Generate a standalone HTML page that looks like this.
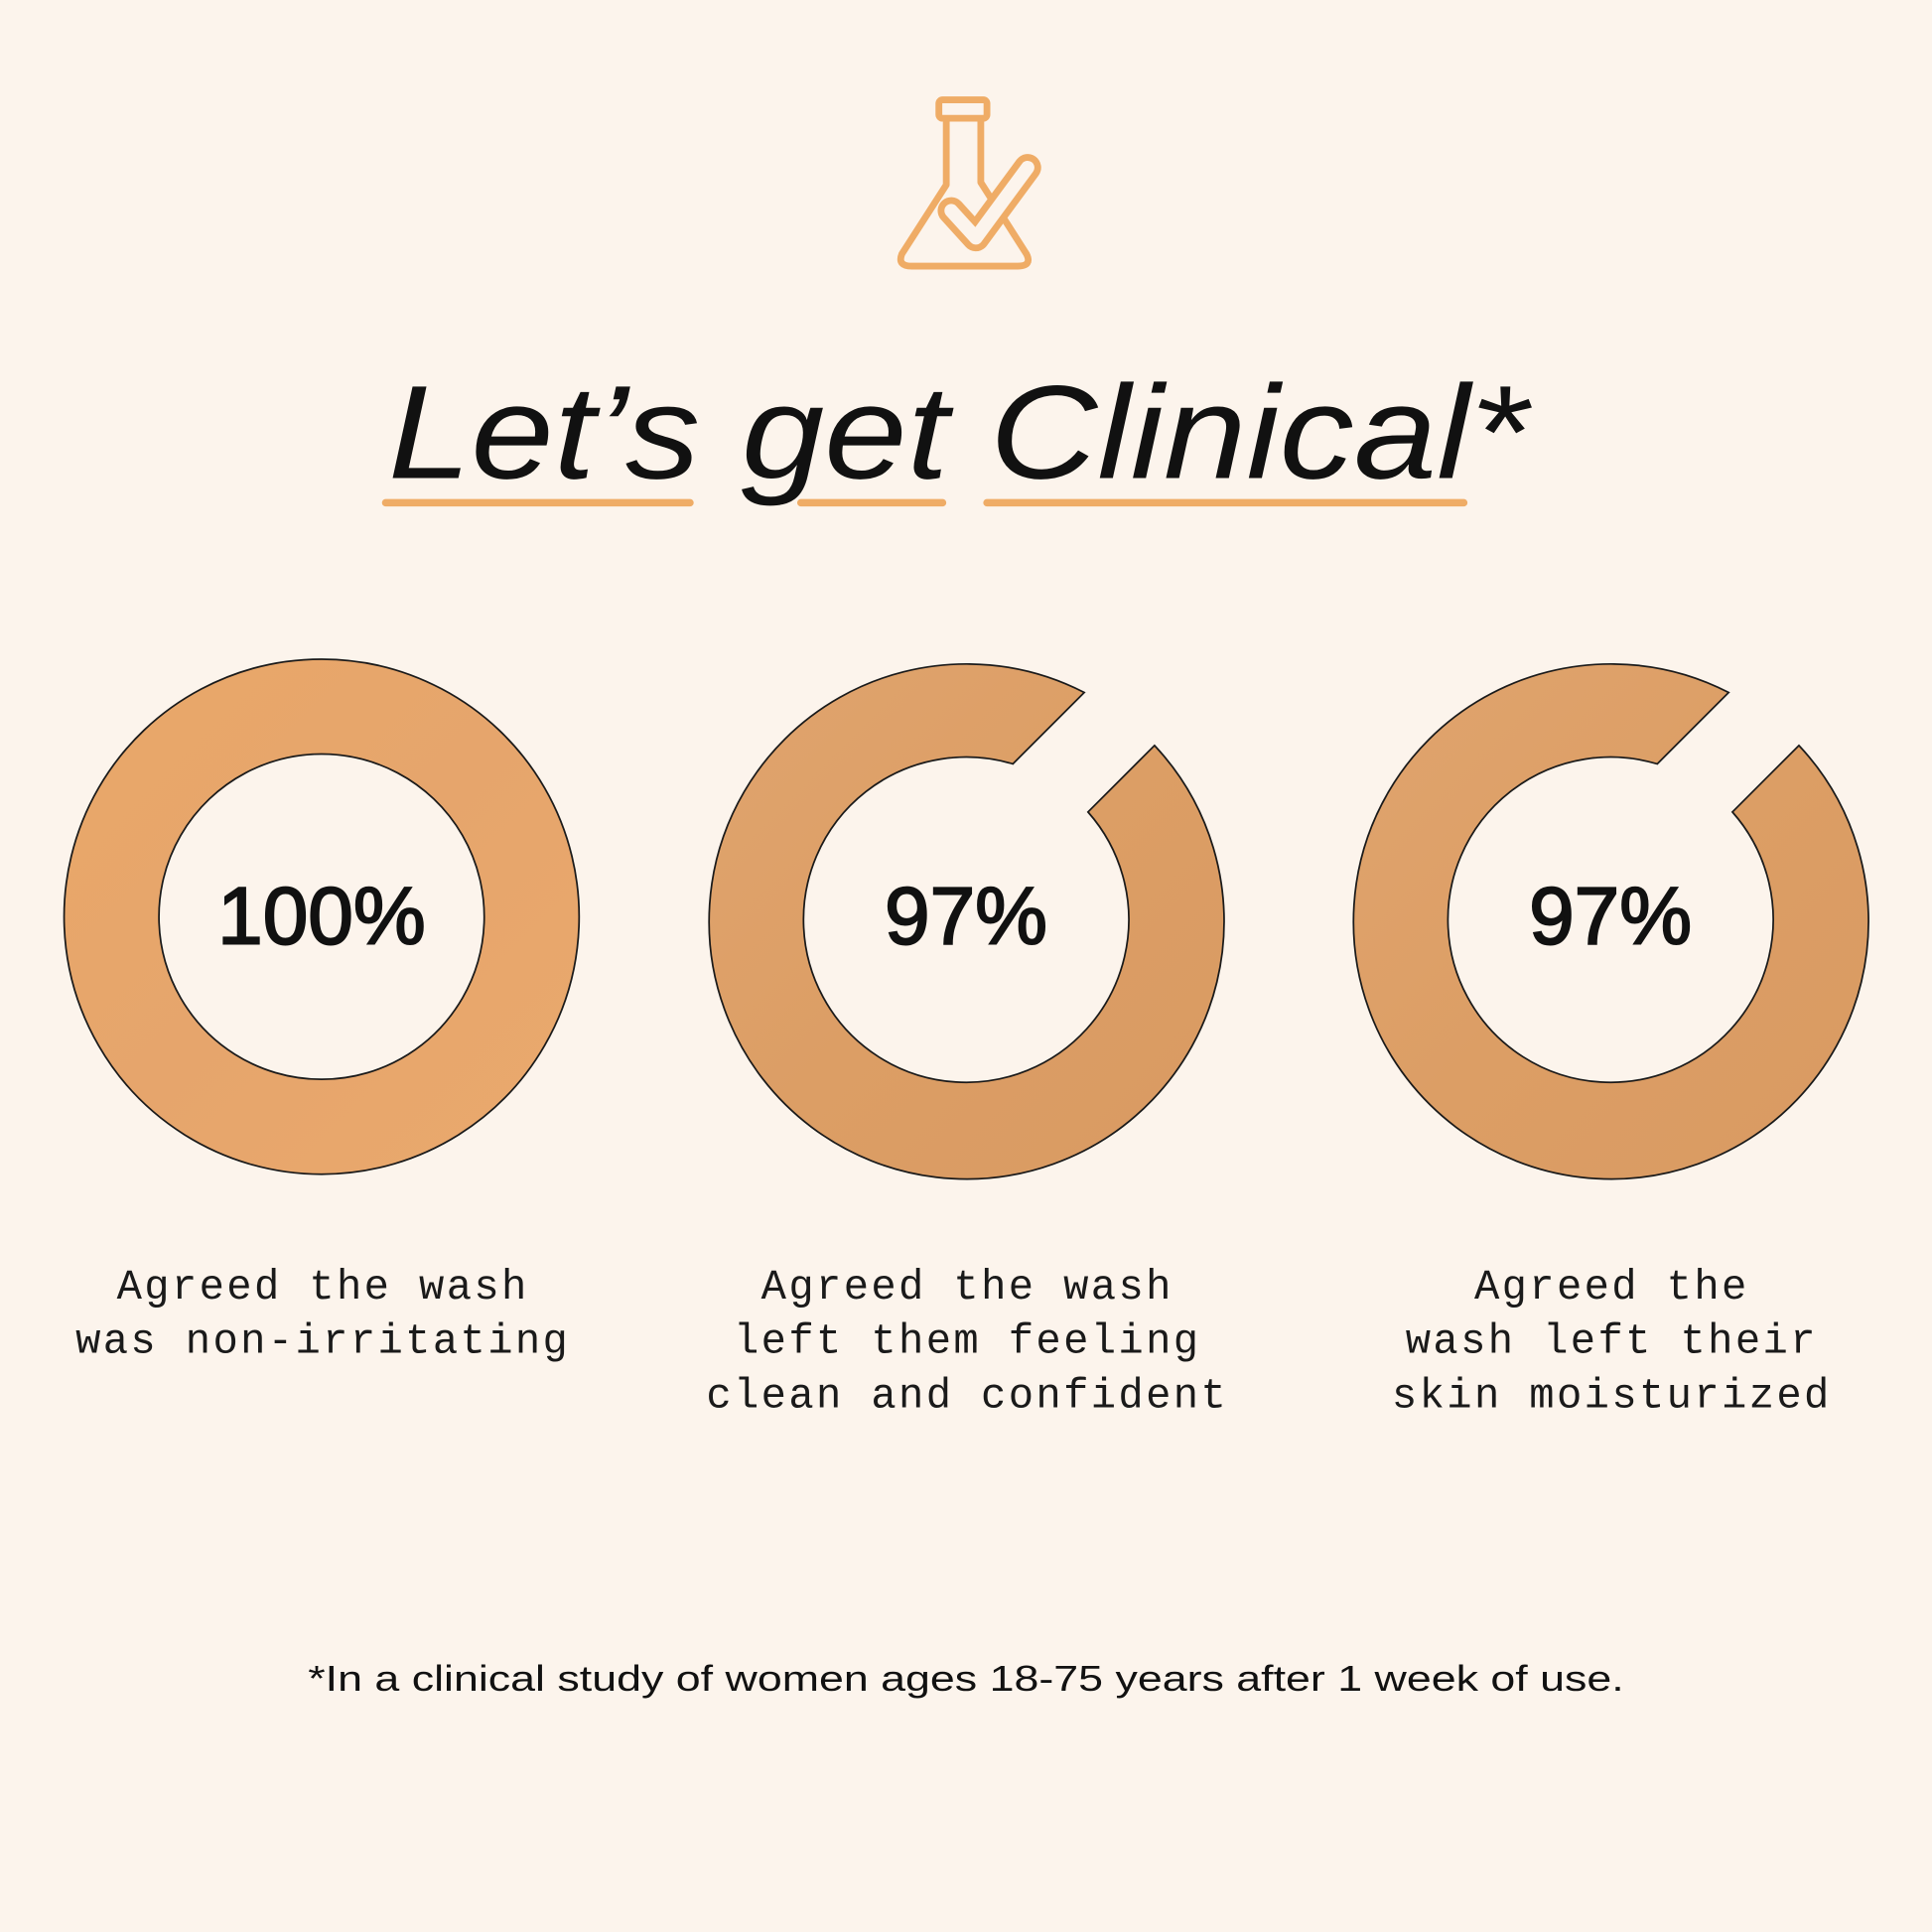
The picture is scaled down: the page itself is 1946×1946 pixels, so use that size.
<!DOCTYPE html>
<html><head><meta charset="utf-8"><style>
html,body{margin:0;padding:0;background:#fcf4ec;}
svg{display:block;}
</style></head><body>
<svg width="1946" height="1946" viewBox="0 0 1568 1568" xmlns="http://www.w3.org/2000/svg">
<defs>
<linearGradient id="g1" x1="0" y1="0" x2="1" y2="1">
<stop offset="0" stop-color="#e9a869"/><stop offset="0.5" stop-color="#e6a56c"/><stop offset="1" stop-color="#eaa96d"/>
</linearGradient>
<linearGradient id="g2" x1="0" y1="0" x2="1" y2="1">
<stop offset="0" stop-color="#e0a46e"/><stop offset="0.5" stop-color="#dc9e65"/><stop offset="1" stop-color="#d99a62"/>
</linearGradient>
</defs>
<rect width="1568" height="1568" fill="#fcf4ec"/>
<g fill="none" stroke="#efac66" stroke-width="5.5" stroke-linejoin="round" stroke-linecap="round">
<rect x="762" y="81" width="39" height="15" rx="3"/>
<path d="M768 97 V150 L732 206 Q728 216 740 216 H826 Q838 216 833 206 L796 148 V97"/>
</g>
<polyline points="772,171 792,193 834,136" fill="none" stroke="#efac66" stroke-width="22" stroke-linecap="round" stroke-linejoin="round"/>
<polyline points="772,171 792,193 834,136" fill="none" stroke="#fcf4ec" stroke-width="11" stroke-linecap="round" stroke-linejoin="round"/>
<text x="315" y="388" font-family="Liberation Sans, sans-serif" font-style="italic" font-size="108" fill="#111" textLength="925" lengthAdjust="spacingAndGlyphs">Let’s get Clinical*</text>
<g stroke="#efac66" stroke-width="6" stroke-linecap="round">
<line x1="313" y1="408" x2="560" y2="408"/>
<line x1="650" y1="408" x2="765" y2="408"/>
<line x1="801" y1="408" x2="1188" y2="408"/>
</g>
<path d="M261 535 A209 209 0 1 0 261.01 535 Z M261 612 A132 132 0 1 1 260.99 612 Z" fill="url(#g1)" fill-rule="evenodd" stroke="#1a1a1a" stroke-width="1.4"/>
<path d="M880 562 A209 209 0 1 0 937 605 L883 659 A132 132 0 1 1 822 620 Z" fill="url(#g2)" stroke="#1a1a1a" stroke-width="1.4"/>
<path d="M1403 562 A209 209 0 1 0 1460 605 L1406 659 A132 132 0 1 1 1345 620 Z" fill="url(#g2)" stroke="#1a1a1a" stroke-width="1.4"/>
<g font-family="Liberation Sans, sans-serif" font-size="66" fill="#111" stroke="#111" stroke-width="1.6" text-anchor="middle">
<text x="261" y="766">100%</text>
<text x="784" y="766">97%</text>
<text x="1307" y="766">97%</text>
</g>
<g font-family="Liberation Mono, monospace" font-size="34" fill="#1a1a1a" text-anchor="middle" letter-spacing="1.9">
<text x="262" y="1054">Agreed the wash</text>
<text x="262" y="1098">was non-irritating</text>
<text x="785" y="1054">Agreed the wash</text>
<text x="785" y="1098">left them feeling</text>
<text x="785" y="1142">clean and confident</text>
<text x="1308" y="1054">Agreed the</text>
<text x="1308" y="1098">wash left their</text>
<text x="1308" y="1142">skin moisturized</text>
</g>
<text x="250" y="1372" font-family="Liberation Sans, sans-serif" font-size="29" fill="#111" textLength="1068" lengthAdjust="spacingAndGlyphs">*In a clinical study of women ages 18-75 years after 1 week of use.</text>
</svg>
</body></html>
